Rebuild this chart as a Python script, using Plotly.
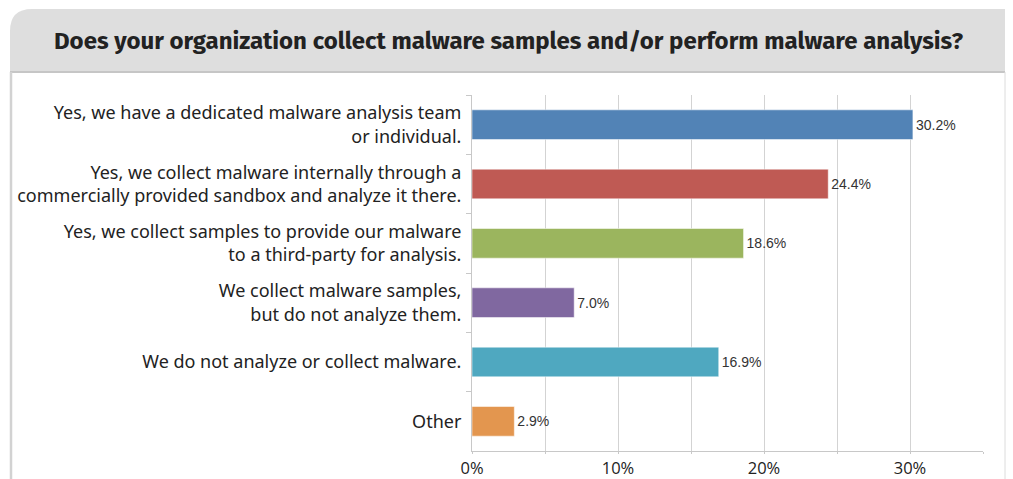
import plotly.graph_objects as go

categories = [
    "Yes, we have a dedicated malware analysis team<br>or individual.",
    "Yes, we collect malware internally through a<br>commercially provided sandbox and analyze it there.",
    "Yes, we collect samples to provide our malware<br>to a third-party for analysis.",
    "We collect malware samples,<br>but do not analyze them.",
    "We do not analyze or collect malware.",
    "Other",
]
values = [30.2, 24.4, 18.6, 7.0, 16.9, 2.9]
colors = ["#5283b6", "#bf5a54", "#9bb55e", "#8068a0", "#4fa8c0", "#e3964f"]
x_tickvals = [0, 5, 10, 15, 20, 25, 30, 35]
x_ticktext = ["0%", "", "10%", "", "20%", "", "30%", ""]
title_text = "Does your organization collect malware samples and/or perform malware analysis?"

W, H = 1013, 479
L, R, T, B = 472, 983, 95, 451


def px(x):
    return (x - L) / (R - L)


def py(y):
    return (B - y) / (B - T)


fig = go.Figure(
    go.Bar(
        x=values,
        y=categories,
        orientation="h",
        marker=dict(color=colors, line=dict(color="rgba(255,255,255,0.5)", width=1)),
        width=0.5,
        text=[f"{v:.1f}%" for v in values],
        textposition="outside",
        cliponaxis=False,
        textfont=dict(family="Liberation Sans Narrow, Arial Narrow, sans-serif", size=14, color="#333333"),
        hoverinfo="skip",
    )
)

# decorative frame: title band with rounded top-left corner
rad = 22
band_top, band_bot, left, right = 9, 72, 10, 1005
path = (
    f"M {px(left)},{py(band_bot)} "
    f"L {px(left)},{py(band_top + rad)} "
    f"Q {px(left)},{py(band_top)} {px(left + rad)},{py(band_top)} "
    f"L {px(right)},{py(band_top)} "
    f"L {px(right)},{py(band_bot)} Z"
)
shapes = [
    dict(type="path", xref="paper", yref="paper", path=path,
         fillcolor="#dedede", line=dict(width=0), layer="below"),
    dict(type="line", xref="paper", yref="paper", x0=px(left), x1=px(right), y0=py(band_bot), y1=py(band_bot),
         line=dict(color="#c6c6c6", width=2)),
    dict(type="line", xref="paper", yref="paper", x0=px(left + 1), x1=px(left + 1), y0=py(band_bot), y1=py(H + 5),
         line=dict(color="#d2d2d2", width=2.5)),
    dict(type="line", xref="paper", yref="paper", x0=px(right), x1=px(right), y0=py(band_bot), y1=py(H + 5),
         line=dict(color="#dcdcdc", width=1)),
]

fig.update_layout(
    width=W,
    height=H,
    margin=dict(l=L, r=W - R, t=T, b=H - B, autoexpand=False),
    paper_bgcolor="white",
    plot_bgcolor="white",
    showlegend=False,
    shapes=shapes,
    annotations=[
        dict(text=f"<b>{title_text}</b>", xref="paper", yref="paper",
             x=px(508), y=py(41), xanchor="center", yanchor="middle", showarrow=False,
             font=dict(family="Fira Sans, Noto Sans, sans-serif", size=24, color="#222222"))
    ],
    xaxis=dict(
        range=[0, 35],
        tickvals=x_tickvals,
        ticktext=x_ticktext,
        showgrid=True,
        gridcolor="#d3d3d3",
        gridwidth=1,
        zeroline=False,
        showline=True,
        linecolor="#c8c8c8",
        linewidth=1,
        ticks="outside",
        ticklen=2,
        tickcolor="#c8c8c8",
        tickfont=dict(family="Open Sans, sans-serif", size=16.5, color="#222222"),
        fixedrange=True,
    ),
    yaxis=dict(
        autorange="reversed",
        showline=True,
        linecolor="#c8c8c8",
        linewidth=1,
        ticks="outside",
        ticklen=5,
        tickcolor="#c8c8c8",
        tickson="boundaries",
        showgrid=False,
        ticklabelstandoff=6,
        tickfont=dict(family="Noto Sans, sans-serif", size=18, color="#222222"),
        fixedrange=True,
    ),
    bargap=0.5,
)

fig.write_html(
    "out.html",
    config={"displayModeBar": False},
    post_script="document.body.style.margin='0';document.body.style.overflow='hidden';",
)
